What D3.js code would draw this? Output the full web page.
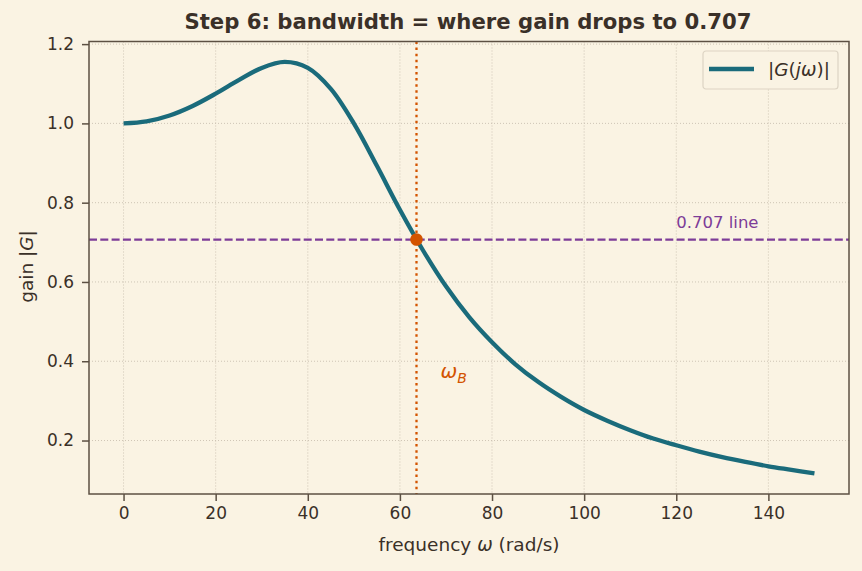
<!DOCTYPE html>
<html>
<head>
<meta charset="utf-8">
<script src="https://cdn.jsdelivr.net/npm/d3@7"></script>
<style>
  body { margin: 0; background: #faf3e3; }
  svg { font-family: "DejaVu Sans", sans-serif; }
</style>
</head>
<body>
<div id="chart"></div>
<script>
// frequency samples (rad/s) and gain
var omega = [0, 5, 10, 15, 20, 25, 30, 35, 40, 45, 50, 55, 60, 65, 70, 75,
             80, 85, 90, 95, 100, 105, 110, 115, 120, 125, 130, 135, 140, 145, 150];
var gain = [1.000, 1.005, 1.020, 1.044, 1.075, 1.109, 1.140, 1.155, 1.140, 1.087,
            1.000, 0.893, 0.782, 0.680, 0.589, 0.512, 0.448, 0.393, 0.348, 0.310,
            0.277, 0.250, 0.226, 0.205, 0.188, 0.172, 0.158, 0.146, 0.135, 0.126, 0.117];
var xTicks = [0, 20, 40, 60, 80, 100, 120, 140];
var yTicks = [0.2, 0.4, 0.6, 0.8, 1.0, 1.2];
var bandwidth = 63.6;
var halfPower = 0.707;

var margin = {top: 41.5, right: 13, bottom: 77, left: 89};
var totalWidth = 862, totalHeight = 571;
var width = totalWidth - margin.left - margin.right;
var height = totalHeight - margin.top - margin.bottom;
var ink = "#3a3028", spine = "#5c5043";

var svg = d3.select("#chart").append("svg")
    .attr("width", totalWidth).attr("height", totalHeight);

svg.append("rect").attr("width", totalWidth).attr("height", totalHeight).attr("fill", "#faf3e3");

var g = svg.append("g").attr("transform", "translate(" + [margin.left, margin.top] + ")");

// scaling with 5% padding like the original
var xScale = d3.scaleLinear().domain([-7.5, 157.5]).range([0, width]);
var yScale = d3.scaleLinear().domain([0.0651, 1.2066]).range([height, 0]);

// dotted grid
g.selectAll(".gx").data(xTicks).enter().append("line")
    .attr("x1", function(d) { return xScale(d); }).attr("x2", function(d) { return xScale(d); })
    .attr("y1", 0).attr("y2", height)
    .attr("stroke", "#c9c0b0").attr("stroke-width", 0.9).attr("stroke-dasharray", "1,2");
g.selectAll(".gy").data(yTicks).enter().append("line")
    .attr("y1", function(d) { return yScale(d); }).attr("y2", function(d) { return yScale(d); })
    .attr("x1", 0).attr("x2", width)
    .attr("stroke", "#c9c0b0").attr("stroke-width", 0.9).attr("stroke-dasharray", "1,2");

// axes
var xAxis = d3.axisBottom(xScale).tickValues(xTicks).tickSize(7).tickPadding(6).tickFormat(d3.format("d"));
var xg = g.append("g").attr("class", "axis").attr("transform", "translate(0," + height + ")").call(xAxis);
var yAxis = d3.axisLeft(yScale).tickValues(yTicks).tickSize(7).tickPadding(8).tickFormat(d3.format(".1f"));
var yg = g.append("g").attr("class", "axis").call(yAxis);
[xg, yg].forEach(function(a) {
    a.select(".domain").remove();
    a.attr("font-family", "DejaVu Sans, sans-serif").attr("font-size", 17);
    a.selectAll("line").attr("stroke", spine).attr("stroke-width", 1.5);
    a.selectAll("text").attr("fill", ink);
});

// half power line
g.append("line")
    .attr("x1", 0).attr("x2", width)
    .attr("y1", yScale(halfPower)).attr("y2", yScale(halfPower))
    .attr("stroke", "#7d3c98").attr("stroke-width", 2.3).attr("stroke-dasharray", "8,3.3");
g.append("text")
    .attr("x", xScale(120)).attr("y", yScale(halfPower) - 12)
    .attr("fill", "#7d3c98").attr("font-size", "16.5px")
    .text("0.707 line");

// bandwidth marker
g.append("line")
    .attr("x1", xScale(bandwidth)).attr("x2", xScale(bandwidth))
    .attr("y1", 0).attr("y2", height)
    .attr("stroke", "#d35400").attr("stroke-width", 2.3).attr("stroke-dasharray", "2.5,3.6");

// make line
var line = d3.line()
    .x(function(d, i) { return xScale(omega[i]); })
    .y(function(d) { return yScale(d); })
    .curve(d3.curveCatmullRom);

g.append("path")
    .datum(gain)
    .attr("fill", "none")
    .attr("stroke", "#1a6b7b")
    .attr("stroke-width", 4.3)
    .attr("stroke-linecap", "butt")
    .attr("d", line);

g.append("circle")
    .attr("cx", xScale(bandwidth)).attr("cy", yScale(halfPower))
    .attr("r", 6.3).attr("fill", "#d35400");

var wb = g.append("text")
    .attr("x", xScale(bandwidth) + 24).attr("y", 378 - margin.top)
    .attr("fill", "#d35400").attr("font-size", "20px").attr("font-style", "italic");
wb.append("tspan").text("ω");
wb.append("tspan").attr("font-size", "14px").attr("dy", 5).text("B");

// frame
g.append("rect").attr("width", width).attr("height", height)
    .attr("fill", "none").attr("stroke", spine).attr("stroke-width", 1.5);

// legend
var lg = g.append("g").attr("transform", "translate(" + (width - 146) + ",9.5)");
lg.append("rect").attr("width", 135).attr("height", 38).attr("rx", 3)
    .attr("fill", "#faf3e3").attr("stroke", "#ddd4c4").attr("stroke-width", 1.2);
lg.append("line").attr("x1", 6).attr("x2", 51).attr("y1", 18).attr("y2", 18)
    .attr("stroke", "#1a6b7b").attr("stroke-width", 4.3);
var lt = lg.append("text").attr("x", 65).attr("y", 25).attr("fill", ink).attr("font-size", "18.5px");
lt.append("tspan").text("|");
lt.append("tspan").attr("font-style", "italic").text("G");
lt.append("tspan").text("(");
lt.append("tspan").attr("font-style", "italic").text("jω");
lt.append("tspan").text(")|");

// title and labels
svg.append("text")
    .attr("x", 468).attr("y", 29)
    .attr("text-anchor", "middle").attr("font-weight", "bold").attr("font-size", "21.2px")
    .attr("fill", ink)
    .text("Step 6: bandwidth = where gain drops to 0.707");

var xl = svg.append("text")
    .attr("x", 469).attr("y", 551)
    .attr("text-anchor", "middle").attr("font-size", "18.5px").attr("fill", ink);
xl.append("tspan").text("frequency ");
xl.append("tspan").attr("font-style", "italic").text("ω");
xl.append("tspan").text(" (rad/s)");

var yl = svg.append("text")
    .attr("text-anchor", "middle").attr("font-size", "18.5px").attr("fill", ink)
    .attr("transform", "translate(" + [33, 266.5] + ") rotate(-90)");
yl.append("tspan").text("gain |");
yl.append("tspan").attr("font-style", "italic").text("G");
yl.append("tspan").text("|");
</script>
</body>
</html>
